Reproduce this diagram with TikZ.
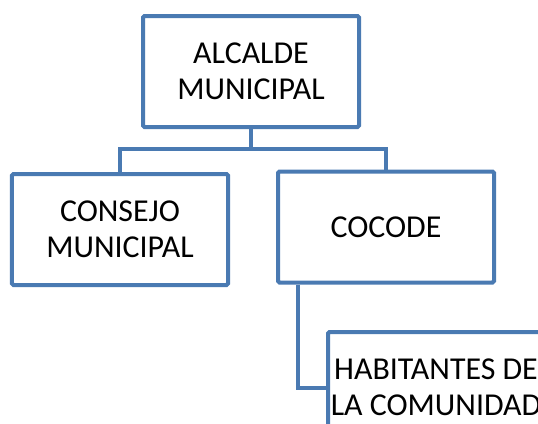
\documentclass[tikz,border=0pt]{standalone}
\usepackage{fontspec}
\setmainfont{Carlito}
\usetikzlibrary{positioning}
\definecolor{orgblue}{RGB}{74,122,178}
\def\boxw{216}
\def\boxh{111}
\tikzset{
    unit/.style={draw=orgblue, line width=4bp, rounded corners=1.5bp,
        minimum width=\boxw bp, minimum height=\boxh bp, inner sep=0pt,
        align=center, font=\fontsize{32}{36}\selectfont},
    link/.style={draw=orgblue, line width=4bp}
}

\begin{document}
\begin{tikzpicture}[x=1bp,y=-1bp]
    \useasboundingbox (0,0) rectangle (538,423);
    \clip (0,0) rectangle (538,423);
    % boxes
    \node[unit] (alcalde) at (251,71.5) {ALCALDE\\MUNICIPAL};
    \node[unit] (consejo) at (120,229.5) {CONSEJO\\MUNICIPAL};
    \node[unit] (cocode) at (386,227) {COCODE};
    \node[unit] (habitantes) at (436,387.5) {HABITANTES DE\\LA COMUNIDAD};
    % links
    \coordinate (fork) at (251,149);
    \draw[link] (alcalde.south) -- (fork) -| (consejo.north);
    \draw[link] (fork) -| (cocode.north);
    \draw[link] ([xshift=22bp]cocode.south west) |- (habitantes.west);
\end{tikzpicture}
\end{document}
